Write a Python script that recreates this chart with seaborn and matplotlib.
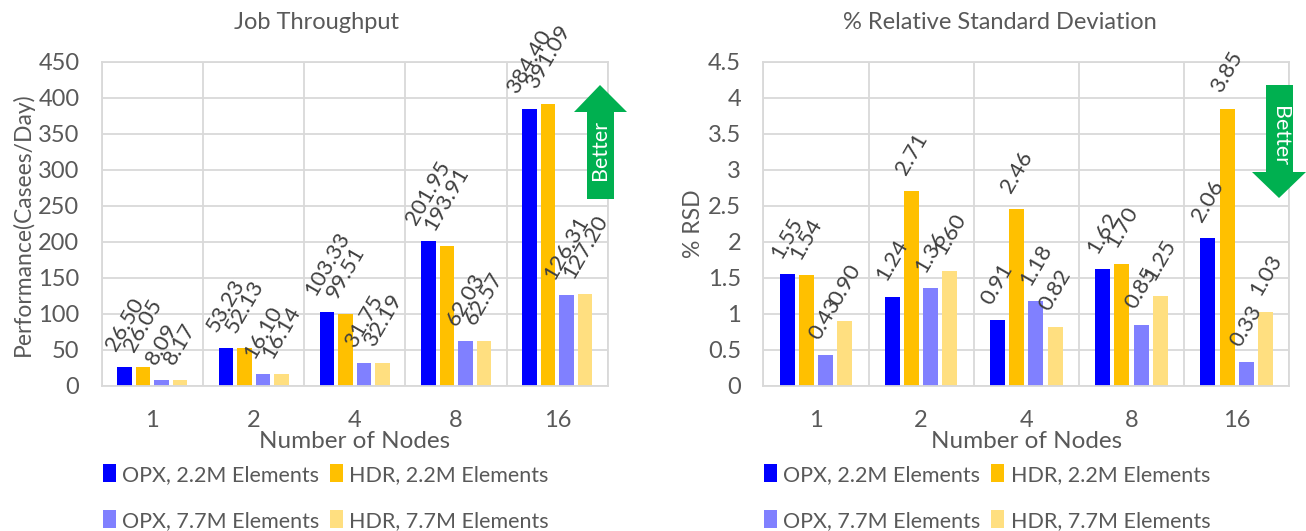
import numpy as np
import pandas as pd
import matplotlib
matplotlib.use("Agg")
import matplotlib.pyplot as plt
from matplotlib.patches import Polygon, Patch
import seaborn as sns

# ---- data ----
nodes = ["1", "2", "4", "8", "16"]
series = ["OPX, 2.2M Elements", "HDR, 2.2M Elements",
          "OPX, 7.7M Elements", "HDR, 7.7M Elements"]
colors = ["#0000FF", "#FFC000", "#8080FF", "#FFDF80"]

throughput_opx_22 = [26.50, 53.23, 103.33, 201.95, 384.40]
throughput_hdr_22 = [26.05, 52.13, 99.51, 193.91, 391.09]
throughput_opx_77 = [8.09, 16.10, 31.75, 62.03, 126.31]
throughput_hdr_77 = [8.17, 16.14, 32.19, 62.57, 127.20]

rsd_opx_22 = [1.55, 1.24, 0.91, 1.62, 2.06]
rsd_hdr_22 = [1.54, 2.71, 2.46, 1.70, 3.85]
rsd_opx_77 = [0.43, 1.36, 1.18, 0.85, 0.33]
rsd_hdr_77 = [0.90, 1.60, 0.82, 1.25, 1.03]


def long_frame(cols):
    rows = []
    for name, vals in zip(series, cols):
        for n, v in zip(nodes, vals):
            rows.append({"nodes": n, "series": name, "value": v})
    return pd.DataFrame(rows)


df_tp = long_frame([throughput_opx_22, throughput_hdr_22,
                    throughput_opx_77, throughput_hdr_77])
df_rsd = long_frame([rsd_opx_22, rsd_hdr_22, rsd_opx_77, rsd_hdr_77])

sns.set_theme(style="white")
plt.rcParams["font.family"] = ["Lato", "DejaVu Sans"]

TXT = "#595959"
LBL = "#404040"
GRID = "#D9D9D9"
W, H = 1306, 531

fig = plt.figure(figsize=(W / 100, H / 100), dpi=100)


def px_axes(x0, x1, y_top, y_bot):
    return fig.add_axes([x0 / W, 1 - y_bot / H, (x1 - x0) / W, (y_bot - y_top) / H])


ax1 = px_axes(101.7, 608, 62, 386)
ax2 = px_axes(763.3, 1289.3, 62, 386)


def draw(ax, df, ymax, ystep, title, title_x, ylabel, fmt_ticks):
    sns.barplot(data=df, x="nodes", y="value", hue="series", order=nodes,
                hue_order=series, palette=colors, saturation=1,
                width=0.73, gap=0.22, linewidth=0, legend=False, ax=ax)
    ax.set_xlim(-0.5, 4.5)
    ax.set_ylim(0, ymax)
    ticks = np.arange(0, ymax + ystep / 2, ystep)
    ax.set_yticks(ticks)
    ax.set_yticklabels([fmt_ticks(v) for v in ticks])
    ax.set_xticks(np.arange(-0.5, 5, 1), minor=True)
    ax.grid(which="minor", axis="x", color=GRID, lw=1.3)
    ax.grid(which="major", axis="y", color=GRID, lw=1.3)
    ax.grid(which="major", axis="x", visible=False)
    ax.set_axisbelow(True)
    for s in ax.spines.values():
        s.set_color(GRID)
        s.set_linewidth(1.3)
    ax.tick_params(axis="both", which="both", length=0, labelsize=17, colors=TXT)
    ax.tick_params(axis="y", pad=16)
    ax.tick_params(axis="x", pad=17)
    ax.set_title(title, fontsize=17, color=TXT, x=title_x, y=1.0, pad=24)
    ax.set_xlabel("Number of Nodes", fontsize=17.5, color=TXT, labelpad=0)
    ax.set_ylabel(ylabel, fontsize=16.5, color=TXT, labelpad=3)
    for cont in ax.containers:
        ax.bar_label(cont, fmt="%.2f", rotation=60, padding=9,
                     fontsize=16, color=LBL)
    # legend laid out row by row: 2.2M pair on top, 7.7M pair below
    order = [0, 2, 1, 3]
    handles = [Patch(facecolor=colors[i], edgecolor="none") for i in order]
    labels = [series[i] for i in order]
    ax.legend(handles, labels, loc="upper left", bbox_to_anchor=(-0.015, -0.215),
              ncol=2, frameon=False, fontsize=15.5, labelcolor=TXT,
              handlelength=0.6, handleheight=0.9, handletextpad=0.3,
              columnspacing=0.5, labelspacing=1.2, borderaxespad=0)


draw(ax1, df_tp, 450, 50, "Job Throughput", 0.425,
     "Performance(Casees/Day)", lambda v: f"{v:.0f}")
draw(ax2, df_rsd, 4.5, 0.5, "% Relative Standard Deviation", 0.45,
     "% RSD", lambda v: f"{v:g}")

GREEN = "#00B050"


def fig_poly(pts):
    return Polygon([(x / W, 1 - y / H) for x, y in pts], closed=True,
                   transform=fig.transFigure, facecolor=GREEN, edgecolor="none",
                   zorder=5)


# "Better" arrow pointing up (higher throughput is better)
fig.add_artist(fig_poly([(587, 199), (614, 199), (614, 112), (627, 112),
                         (600, 85), (574, 112), (587, 112)]))
fig.text(600.5 / W, 1 - 150 / H, "Better", rotation=90, color="white",
         fontsize=15.5, ha="center", va="center", zorder=6)

# "Better" arrow pointing down (lower deviation is better)
fig.add_artist(fig_poly([(1266, 85), (1293, 85), (1293, 172), (1306, 172),
                         (1279, 198), (1252, 172), (1266, 172)]))
fig.text(1279.5 / W, 1 - 136 / H, "Better", rotation=-90, color="white",
         fontsize=15.5, ha="center", va="center", zorder=6)

fig.savefig("out.png", dpi=100)
